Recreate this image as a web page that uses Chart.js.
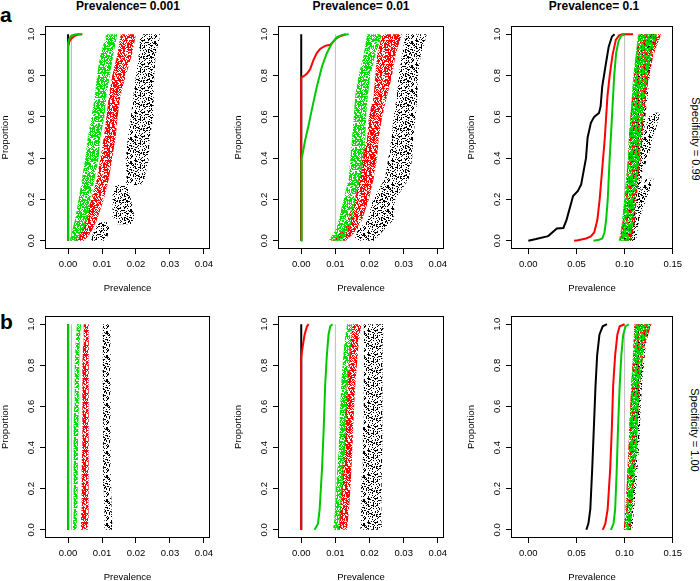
<!DOCTYPE html>
<html>
<head>
<meta charset="utf-8">
<script src="https://cdn.jsdelivr.net/npm/chart.js@4.4.1/dist/chart.umd.min.js"></script>
<style>
  html, body { margin: 0; padding: 0; background: #fff; overflow: hidden; }
  #page { position: relative; width: 700px; height: 581px; font-family: "Liberation Sans", Arial, Helvetica, sans-serif; color: #000; }
  .panel { position: absolute; }
  .coltitle { position: absolute; top: 0; width: 200px; text-align: center; font-weight: bold; font-size: 12px; line-height: 12px; white-space: nowrap; }
  .letter { position: absolute; left: 0; font-weight: bold; font-size: 21px; line-height: 21px; }
  .rowtitle { position: absolute; font-size: 11px; line-height: 11px; white-space: nowrap; transform: translate(-50%, -50%) rotate(90deg); }
</style>
</head>
<body>
<div id="page">
  <div class="letter" style="top:4px">a</div>
  <div class="letter" style="top:311px">b</div>
  <div class="coltitle" id="t0" style="left:28px"></div>
  <div class="coltitle" id="t1" style="left:261px"></div>
  <div class="coltitle" id="t2" style="left:494px"></div>
  <div class="rowtitle" id="r0" style="left:695px; top:139px"></div>
  <div class="rowtitle" id="r1" style="left:694px; top:430px"></div>

  <canvas id="a1" class="panel" width="220" height="278" style="left:0; top:16px"></canvas>
  <canvas id="a2" class="panel" width="221" height="278" style="left:233px; top:16px"></canvas>
  <canvas id="a3" class="panel" width="221" height="278" style="left:466px; top:16px"></canvas>
  <canvas id="b1" class="panel" width="220" height="277" style="left:0; top:306px"></canvas>
  <canvas id="b2" class="panel" width="221" height="277" style="left:233px; top:306px"></canvas>
  <canvas id="b3" class="panel" width="221" height="277" style="left:466px; top:306px"></canvas>
</div>

<script>
'use strict';

// ---- text and axes ----
const colTitles  = ['Prevalence= 0.001', 'Prevalence= 0.01', 'Prevalence= 0.1'];
const rowTitles  = ['Specificity = 0.99', 'Specificity = 1.00'];
const propTicks  = [0, 0.2, 0.4, 0.6, 0.8, 1.0];
const propLabels = ['0.0', '0.2', '0.4', '0.6', '0.8', '1.0'];
const lowTicks   = [0, 0.01, 0.02, 0.03, 0.04];
const lowLabels  = ['0.00', '0.01', '0.02', '0.03', '0.04'];
const highTicks  = [0, 0.05, 0.10, 0.15];
const highLabels = ['0.00', '0.05', '0.10', '0.15'];
const truePrev   = [0.001, 0.01, 0.1];

// y levels the cloud edges are read at
const cloudLevels = [0, 0.05, 0.1, 0.2, 0.3, 0.4, 0.5, 0.6, 0.7, 0.8, 0.9, 1.0];
const zeroX = [0, 0];
const fullY = [0, 1];

// ---- a1: prevalence 0.001, specificity 0.99 ----
const a1GreenLineX = [0, 0, 0.0003, 0.0008, 0.0015, 0.0025, 0.0040];
const a1GreenLineY = [0, 0.955, 0.975, 0.99, 0.997, 1.0, 1.0];
const a1RedLineX   = [0, 0, 0.0004, 0.0010, 0.0020, 0.0030, 0.0042];
const a1RedLineY   = [0, 0.94, 0.965, 0.98, 0.993, 0.999, 1.0];
const a1GreenLo = [0.0005, 0.0012, 0.0020, 0.0031, 0.0041, 0.0051, 0.0058, 0.0069, 0.0079, 0.0085, 0.0095, 0.0113];
const a1GreenHi = [0.0026, 0.0046, 0.0058, 0.0066, 0.0078, 0.0090, 0.0095, 0.0107, 0.0113, 0.0123, 0.0133, 0.0145];
const a1RedLo   = [0.0020, 0.0040, 0.0050, 0.0068, 0.0085, 0.0095, 0.0105, 0.0113, 0.0120, 0.0130, 0.0145, 0.0155];
const a1RedHi   = [0.0050, 0.0070, 0.0085, 0.0105, 0.0120, 0.0130, 0.0140, 0.0146, 0.0154, 0.0170, 0.0188, 0.0200];
const a1BlackY1  = [0, 0.03, 0.06, 0.09];
const a1BlackLo1 = [0.0068, 0.0072, 0.0080, 0.0092];
const a1BlackHi1 = [0.0110, 0.0118, 0.0122, 0.0118];
const a1BlackY2  = [0.08, 0.12, 0.18, 0.22, 0.27];
const a1BlackLo2 = [0.0145, 0.0130, 0.0130, 0.0132, 0.0140];
const a1BlackHi2 = [0.0190, 0.0195, 0.0188, 0.0182, 0.0172];
const a1BlackY3  = [0.27, 0.3, 0.4, 0.5, 0.6, 0.7, 0.8, 0.9, 1.0];
const a1BlackLo3 = [0.0170, 0.0172, 0.0170, 0.0176, 0.0185, 0.0192, 0.0200, 0.0208, 0.0213];
const a1BlackHi3 = [0.0215, 0.0225, 0.0238, 0.0240, 0.0252, 0.0252, 0.0254, 0.0258, 0.0272];

// ---- a2: prevalence 0.01, specificity 0.99 ----
const a2RedLineX   = [0, 0, 0.0010, 0.0017, 0.0026, 0.0036, 0.0046, 0.0056, 0.0070, 0.0085, 0.0092, 0.0100, 0.0110, 0.0130];
const a2RedLineY   = [0, 0.79, 0.80, 0.81, 0.83, 0.876, 0.91, 0.93, 0.944, 0.949, 0.96, 0.976, 0.988, 1.0];
const a2GreenLineX = [0, 0, 0.0002, 0.0012, 0.0022, 0.0031, 0.0046, 0.0061, 0.0075, 0.0090, 0.0105, 0.0120, 0.0139];
const a2GreenLineY = [0, 0.37, 0.394, 0.49, 0.563, 0.635, 0.748, 0.845, 0.908, 0.957, 0.986, 0.997, 1.0];
const a2GreenLo = [0.0080, 0.0100, 0.0110, 0.0124, 0.0139, 0.0144, 0.0149, 0.0154, 0.0158, 0.0168, 0.0183, 0.0193];
const a2GreenHi = [0.0120, 0.0140, 0.0150, 0.0158, 0.0173, 0.0183, 0.0188, 0.0190, 0.0195, 0.0202, 0.0217, 0.0237];
const a2RedLo   = [0.0090, 0.0120, 0.0134, 0.0158, 0.0168, 0.0178, 0.0193, 0.0198, 0.0212, 0.0217, 0.0222, 0.0237];
const a2RedHi   = [0.0130, 0.0163, 0.0178, 0.0198, 0.0212, 0.0222, 0.0227, 0.0237, 0.0251, 0.0266, 0.0276, 0.0295];
const a2BlackLo = [0.0155, 0.0165, 0.0195, 0.0210, 0.0245, 0.0255, 0.0265, 0.0270, 0.0280, 0.0285, 0.0295, 0.0305];
const a2BlackHi = [0.0215, 0.0240, 0.0270, 0.0275, 0.0315, 0.0325, 0.0328, 0.0335, 0.0340, 0.0342, 0.0350, 0.0368];

// ---- a3: prevalence 0.1, specificity 0.99 ----
const a3BlackLineX = [0.000, 0.008, 0.0195, 0.0212, 0.0296, 0.0364, 0.0397, 0.0465, 0.0515, 0.0549, 0.0599, 0.0616, 0.0650, 0.0684, 0.0734, 0.0751, 0.0768, 0.0801, 0.0835, 0.0869, 0.0896];
const a3BlackLineY = [0.000, 0.008, 0.021, 0.025, 0.059, 0.062, 0.101, 0.217, 0.241, 0.273, 0.400, 0.500, 0.571, 0.600, 0.619, 0.651, 0.748, 0.844, 0.940, 0.989, 1.000];
const a3RedLineX   = [0.0475, 0.0515, 0.0599, 0.0650, 0.0684, 0.0717, 0.0741, 0.0768, 0.0795, 0.0822, 0.0845, 0.0875, 0.0909, 0.0943, 0.0976, 0.1088];
const a3RedLineY   = [0, 0.002, 0.011, 0.021, 0.04, 0.1, 0.2, 0.35, 0.5, 0.7, 0.8, 0.9, 0.973, 0.995, 1.0, 1.0];
const a3GreenLineX = [0.0677, 0.0734, 0.0768, 0.0791, 0.0808, 0.0825, 0.0845, 0.0869, 0.0892, 0.0912, 0.0936, 0.0963, 0.1003];
const a3GreenLineY = [0, 0.005, 0.011, 0.04, 0.1, 0.2, 0.4, 0.6, 0.8, 0.908, 0.965, 0.992, 1.0];
const a3GreenLo = [0.0940, 0.0960, 0.0975, 0.0995, 0.1015, 0.1035, 0.1045, 0.1060, 0.1075, 0.1090, 0.1115, 0.1140];
const a3GreenHi = [0.1060, 0.1075, 0.1095, 0.1110, 0.1130, 0.1160, 0.1170, 0.1190, 0.1210, 0.1240, 0.1280, 0.1340];
const a3RedLo   = [0.0950, 0.0965, 0.0980, 0.1000, 0.1020, 0.1035, 0.1045, 0.1060, 0.1080, 0.1095, 0.1120, 0.1145];
const a3RedHi   = [0.1080, 0.1095, 0.1110, 0.1125, 0.1145, 0.1170, 0.1185, 0.1200, 0.1225, 0.1255, 0.1300, 0.1380];
const a3BlackLo = [0.0990, 0.1010, 0.1025, 0.1040, 0.1055, 0.1070, 0.1080, 0.1095, 0.1110, 0.1125, 0.1145, 0.1170];
const a3BlackHi = [0.1120, 0.1135, 0.1150, 0.1160, 0.1175, 0.1190, 0.1200, 0.1215, 0.1240, 0.1260, 0.1290, 0.1320];
const a3BlackY2  = [0.0, 0.1, 0.2, 0.3];
const a3BlackLo2 = [0.1040, 0.1085, 0.1140, 0.1220];
const a3BlackHi2 = [0.1100, 0.1150, 0.1225, 0.1300];
const a3BlackY3  = [0.33, 0.4, 0.5, 0.6, 0.62];
const a3BlackLo3 = [0.1120, 0.1140, 0.1190, 0.1250, 0.1310];
const a3BlackHi3 = [0.1180, 0.1240, 0.1300, 0.1360, 0.1370];

// ---- b1: prevalence 0.001, specificity 1.00 ----
const b1GreenLo = [0.0014, 0.0015, 0.0015, 0.0016, 0.0016, 0.0017, 0.0017, 0.0018, 0.0019, 0.0020, 0.0022, 0.0026];
const b1GreenHi = [0.0025, 0.0026, 0.0027, 0.0028, 0.0028, 0.0029, 0.0030, 0.0031, 0.0032, 0.0033, 0.0034, 0.0038];
const b1RedLo   = [0.0038, 0.0038, 0.0039, 0.0040, 0.0040, 0.0041, 0.0041, 0.0042, 0.0042, 0.0043, 0.0044, 0.0046];
const b1RedHi   = [0.0058, 0.0059, 0.0059, 0.0060, 0.0060, 0.0061, 0.0061, 0.0061, 0.0061, 0.0061, 0.0061, 0.0061];
const b1BlackLo = [0.0108, 0.0108, 0.0106, 0.0105, 0.0104, 0.0103, 0.0103, 0.0103, 0.0102, 0.0102, 0.0102, 0.0102];
const b1BlackHi = [0.0130, 0.0130, 0.0128, 0.0127, 0.0126, 0.0125, 0.0125, 0.0125, 0.0125, 0.0125, 0.0125, 0.0125];

// ---- b2: prevalence 0.01, specificity 1.00 ----
const b2RedLineX   = [0, 0, 0.0005, 0.0010, 0.0017, 0.0022];
const b2RedLineY   = [0, 0.84, 0.90, 0.95, 0.99, 1.0];
const b2GreenLineX = [0.0039, 0.0049, 0.0054, 0.0061, 0.0066, 0.0070, 0.0075, 0.0080, 0.0085, 0.0092];
const b2GreenLineY = [0, 0.03, 0.1, 0.3, 0.5, 0.7, 0.85, 0.95, 0.99, 1.0];
const b2GreenLo = [0.0093, 0.0097, 0.0099, 0.0102, 0.0106, 0.0110, 0.0112, 0.0114, 0.0117, 0.0121, 0.0126, 0.0134];
const b2GreenHi = [0.0111, 0.0114, 0.0116, 0.0121, 0.0125, 0.0129, 0.0131, 0.0134, 0.0138, 0.0142, 0.0146, 0.0150];
const b2RedLo   = [0.0110, 0.0112, 0.0114, 0.0117, 0.0120, 0.0124, 0.0126, 0.0129, 0.0133, 0.0139, 0.0143, 0.0149];
const b2RedHi   = [0.0134, 0.0137, 0.0140, 0.0144, 0.0147, 0.0150, 0.0152, 0.0155, 0.0158, 0.0163, 0.0168, 0.0176];
const b2BlackLo = [0.0173, 0.0175, 0.0175, 0.0176, 0.0178, 0.0180, 0.0181, 0.0183, 0.0183, 0.0184, 0.0184, 0.0183];
const b2BlackHi = [0.0237, 0.0235, 0.0234, 0.0234, 0.0236, 0.0237, 0.0238, 0.0237, 0.0238, 0.0237, 0.0238, 0.0242];

// ---- b3: prevalence 0.1, specificity 1.00 ----
const b3CurveY     = [0, 0.03, 0.1, 0.3, 0.5, 0.7, 0.85, 0.95, 0.99, 1.0];
const b3BlackLineX = [0.0603, 0.0624, 0.0644, 0.0664, 0.0681, 0.0698, 0.0715, 0.0739, 0.0773, 0.0817];
const b3RedLineX   = [0.0773, 0.0800, 0.0824, 0.0851, 0.0868, 0.0881, 0.0902, 0.0925, 0.0949, 0.1000];
const b3GreenLineX = [0.0858, 0.0885, 0.0902, 0.0919, 0.0932, 0.0949, 0.0966, 0.0986, 0.1010, 0.1044];
const b3GreenLo = [0.1003, 0.1012, 0.1018, 0.1027, 0.1036, 0.1044, 0.1052, 0.1061, 0.1072, 0.1085, 0.1095, 0.1110];
const b3GreenHi = [0.1060, 0.1070, 0.1078, 0.1095, 0.1112, 0.1129, 0.1138, 0.1146, 0.1160, 0.1180, 0.1205, 0.1260];
const b3RedLo   = [0.0990, 0.1000, 0.1008, 0.1020, 0.1030, 0.1040, 0.1048, 0.1058, 0.1068, 0.1080, 0.1092, 0.1100];
const b3RedHi   = [0.1060, 0.1070, 0.1080, 0.1095, 0.1110, 0.1125, 0.1135, 0.1145, 0.1160, 0.1180, 0.1210, 0.1280];
const b3BlackLo = [0.1020, 0.1030, 0.1038, 0.1050, 0.1060, 0.1070, 0.1080, 0.1088, 0.1098, 0.1110, 0.1122, 0.1150];
const b3BlackHi = [0.1080, 0.1090, 0.1098, 0.1120, 0.1135, 0.1150, 0.1160, 0.1168, 0.1180, 0.1200, 0.1220, 0.1270];

// ---- styles ----
const COLORS = { black: '#000000', red: '#ff0000', green: '#00c800', cloudGreen: '#00dd00', gray: '#bebebe' };

Chart.defaults.font.family = '"Liberation Sans", Arial, Helvetica, sans-serif';
Chart.defaults.font.size = 9.5;
Chart.defaults.color = '#000';

colTitles.forEach((t, i) => { document.getElementById('t' + i).textContent = t; });
rowTitles.forEach((t, i) => { document.getElementById('r' + i).textContent = t; });

function xy(xs, ys) {
  return xs.map((x, i) => ({ x, y: ys[i] }));
}

// speckled fill texture for the point clouds (fixed hash, so the grain is the same every run)
function speckle(ctx, color, density, seed) {
  const size = 24;
  const tile = document.createElement('canvas');
  tile.width = size;
  tile.height = size;
  const t = tile.getContext('2d');
  t.fillStyle = color;
  for (let y = 0; y < size; y++) {
    for (let x = 0; x < size; x++) {
      let h = Math.imul(x + seed * 31, 374761393) ^ Math.imul(y + seed * 17, 668265263);
      h = Math.imul(h ^ (h >>> 13), 1274126177);
      h ^= h >>> 16;
      if ((h & 255) < density * 256) t.fillRect(x, y, 1, 1);
    }
  }
  return ctx.createPattern(tile, 'repeat');
}

function lineSet(xs, ys, color, width) {
  return { data: xy(xs, ys), borderColor: color, borderWidth: width || 2, pointRadius: 0, fill: false };
}

// one point cloud = a closed shape: left edge going up, right edge coming back down
function cloudSet(ys, lo, hi, pattern) {
  const left  = xy(lo, ys);
  const right = xy(hi, ys).reverse();
  return {
    data: left.concat(right),
    borderWidth: 0,
    borderColor: 'rgba(0,0,0,0)',
    backgroundColor: pattern,
    pointRadius: 0,
    fill: 'shape',
  };
}

const boxPlugin = {
  id: 'box',
  afterDatasetsDraw(chart) {
    const { ctx, chartArea: a } = chart;
    ctx.save();
    ctx.strokeStyle = '#000';
    ctx.lineWidth = 1;
    ctx.strokeRect(Math.round(a.left) + 0.5, Math.round(a.top) + 0.5,
      Math.round(a.right - a.left) - 1, Math.round(a.bottom - a.top) - 1);
    ctx.restore();
  },
};

function axisX(range, ticks, labels) {
  return {
    type: 'linear', position: 'bottom', min: range[0], max: range[1],
    afterBuildTicks: (s) => { s.ticks = ticks.map((v) => ({ value: v })); },
    afterFit: (s) => { s.height = 45; },
    grid: { display: true, drawOnChartArea: false, drawTicks: true, tickLength: 5, color: '#000', lineWidth: 1 },
    border: { display: false },
    ticks: { autoSkip: false, maxRotation: 0, minRotation: 0, padding: 5, callback: (v, i) => labels[i] },
    title: { display: true, text: 'Prevalence', padding: 0 },
  };
}

function axisY() {
  return {
    type: 'linear', position: 'left', min: -0.04, max: 1.04,
    afterBuildTicks: (s) => { s.ticks = propTicks.map((v) => ({ value: v })); },
    afterFit: (s) => { s.width = 45; },
    grid: { display: true, drawOnChartArea: false, drawTicks: true, tickLength: 5, color: '#000', lineWidth: 1 },
    border: { display: false },
    ticks: { autoSkip: false, minRotation: 90, maxRotation: 90, crossAlign: 'center', padding: 2, callback: (v, i) => propLabels[i] },
    title: { display: true, text: 'Proportion', padding: 0 },
  };
}

// lines: [xs, ys, colour] top first; clouds: [ys, lo, hi, colourKey] top first
function drawPanel(id, wide, truth, lines, clouds) {
  const canvas = document.getElementById(id);
  const ctx = canvas.getContext('2d');
  const pats = {
    green: speckle(ctx, COLORS.cloudGreen, 0.62, 1),
    red: speckle(ctx, COLORS.red, 0.60, 2),
    black: speckle(ctx, COLORS.black, 0.28, 3),
  };

  const datasets = [];
  lines.forEach(([xs, ys, c]) => datasets.push(lineSet(xs, ys, c)));
  clouds.forEach(([ys, lo, hi, key]) => datasets.push(cloudSet(ys, lo, hi, pats[key])));
  datasets.push(lineSet([truth, truth], fullY, COLORS.gray, 1));

  const range = wide ? [-0.018, 0.1505] : [-0.0068, 0.0418];
  return new Chart(ctx, {
    type: 'line',
    data: { datasets },
    options: {
      indexAxis: 'y',
      responsive: false,
      animation: false,
      events: [],
      layout: { padding: { top: 10, right: 10, left: 0, bottom: 0 } },
      elements: { line: { tension: 0 }, point: { radius: 0 } },
      plugins: { legend: { display: false }, tooltip: { enabled: false } },
      scales: {
        x: wide ? axisX(range, highTicks, highLabels) : axisX(range, lowTicks, lowLabels),
        y: axisY(),
      },
    },
    plugins: [boxPlugin],
  });
}

drawPanel('a1', false, truePrev[0],
  [[a1GreenLineX, a1GreenLineY, COLORS.green], [a1RedLineX, a1RedLineY, COLORS.red], [zeroX, fullY, COLORS.black]],
  [[cloudLevels, a1GreenLo, a1GreenHi, 'green'], [cloudLevels, a1RedLo, a1RedHi, 'red'],
   [a1BlackY1, a1BlackLo1, a1BlackHi1, 'black'], [a1BlackY2, a1BlackLo2, a1BlackHi2, 'black'],
   [a1BlackY3, a1BlackLo3, a1BlackHi3, 'black']]);

drawPanel('a2', false, truePrev[1],
  [[a2GreenLineX, a2GreenLineY, COLORS.green], [a2RedLineX, a2RedLineY, COLORS.red], [zeroX, fullY, COLORS.black]],
  [[cloudLevels, a2GreenLo, a2GreenHi, 'green'], [cloudLevels, a2RedLo, a2RedHi, 'red'],
   [cloudLevels, a2BlackLo, a2BlackHi, 'black']]);

drawPanel('a3', true, truePrev[2],
  [[a3GreenLineX, a3GreenLineY, COLORS.green], [a3RedLineX, a3RedLineY, COLORS.red], [a3BlackLineX, a3BlackLineY, COLORS.black]],
  [[cloudLevels, a3GreenLo, a3GreenHi, 'green'], [cloudLevels, a3RedLo, a3RedHi, 'red'],
   [cloudLevels, a3BlackLo, a3BlackHi, 'black'], [a3BlackY2, a3BlackLo2, a3BlackHi2, 'black'],
   [a3BlackY3, a3BlackLo3, a3BlackHi3, 'black']]);

drawPanel('b1', false, truePrev[0],
  [[zeroX, fullY, COLORS.green], [zeroX, fullY, COLORS.red], [zeroX, fullY, COLORS.black]],
  [[cloudLevels, b1GreenLo, b1GreenHi, 'green'], [cloudLevels, b1RedLo, b1RedHi, 'red'],
   [cloudLevels, b1BlackLo, b1BlackHi, 'black']]);

drawPanel('b2', false, truePrev[1],
  [[b2GreenLineX, b2GreenLineY, COLORS.green], [b2RedLineX, b2RedLineY, COLORS.red], [zeroX, fullY, COLORS.black]],
  [[cloudLevels, b2GreenLo, b2GreenHi, 'green'], [cloudLevels, b2RedLo, b2RedHi, 'red'],
   [cloudLevels, b2BlackLo, b2BlackHi, 'black']]);

drawPanel('b3', true, truePrev[2],
  [[b3GreenLineX, b3CurveY, COLORS.green], [b3RedLineX, b3CurveY, COLORS.red], [b3BlackLineX, b3CurveY, COLORS.black]],
  [[cloudLevels, b3GreenLo, b3GreenHi, 'green'], [cloudLevels, b3RedLo, b3RedHi, 'red'],
   [cloudLevels, b3BlackLo, b3BlackHi, 'black']]);
</script>
</body>
</html>
